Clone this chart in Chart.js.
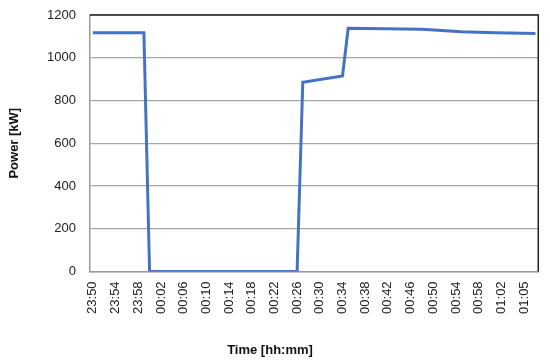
<!DOCTYPE html>
<html>
<head>
<meta charset="utf-8">
<script src="https://cdn.jsdelivr.net/npm/chart.js@4.4.0/dist/chart.umd.min.js"></script>
<style>
    html, body {margin: 0; padding: 0; background: #fff;}
    #wrap {width: 550px; height: 364px;}
</style>
</head>
<body>
<div id="wrap"><canvas id="power-chart" width="550" height="364"></canvas></div>
<script>
// one category per sample (about one a minute); only every 4th label is shown
const timeLabels = [
    '23:50', '23:51', '23:52', '23:53', '23:54', '23:55', '23:56', '23:57', '23:58', '23:59',
    '00:00', '00:01', '00:02', '00:03', '00:04', '00:05', '00:06', '00:07', '00:08', '00:09',
    '00:10', '00:11', '00:12', '00:13', '00:14', '00:15', '00:16', '00:17', '00:18', '00:19',
    '00:20', '00:21', '00:22', '00:23', '00:24', '00:25', '00:26', '00:27', '00:28', '00:29',
    '00:30', '00:31', '00:32', '00:33', '00:34', '00:35', '00:36', '00:37', '00:38', '00:39',
    '00:40', '00:41', '00:42', '00:43', '00:44', '00:45', '00:46', '00:47', '00:48', '00:49',
    '00:50', '00:51', '00:52', '00:53', '00:54', '00:55', '00:56', '00:57', '00:58', '00:59',
    '01:00', '01:01', '01:02', '01:03', '01:03', '01:04', '01:05', '01:06', '01:07'
];

// power readings [kW]; null = no marker, the line just runs through
const powerKw = [
    1117, null, null, null, null, null, null, null, null, 1117,
    0, null, null, null, null, null, null, null, null, null,
    null, null, null, null, null, null, null, null, null, null,
    null, null, null, null, null, null, 0, 885, null, null,
    null, null, null, null, 915, 1138, null, null, null, null,
    null, null, null, null, null, null, null, null, 1133, null,
    null, null, null, null, null, 1122, null, null, null, null,
    null, 1117, null, null, null, null, null, null, 1114
];

const yTicks = [0, 200, 400, 600, 800, 1000, 1200];
const labelEvery = 4;

const frameLines = {
    id: 'frameLines',
    afterDraw(chart) {
        const {ctx, chartArea} = chart;
        ctx.save();
        ctx.strokeStyle = '#222';
        ctx.lineWidth = 1.5;
        ctx.beginPath();
        ctx.moveTo(chartArea.left, chartArea.top);
        ctx.lineTo(chartArea.right, chartArea.top);
        ctx.lineTo(chartArea.right, chartArea.bottom);
        ctx.stroke();
        ctx.restore();
    }
};

const tickFont = {family: 'Liberation Sans', size: 13};
const titleFont = {family: 'Liberation Sans', size: 13, weight: 'bold'};

new Chart(document.getElementById('power-chart'), {
    type: 'line',
    data: {
        labels: timeLabels,
        datasets: [{
            label: 'Power',
            data: powerKw,
            borderColor: '#4472C4',
            borderWidth: 3,
            pointRadius: 0,
            tension: 0,
            spanGaps: true
        }]
    },
    options: {
        responsive: false,
        animation: false,
        layout: {padding: {left: 0, right: 10, top: 15, bottom: 0}},
        plugins: {
            legend: {display: false},
            tooltip: {enabled: false},
            // x title centred on the whole picture, like the original
            title: {
                display: true,
                position: 'bottom',
                text: 'Time [hh:mm]',
                color: '#111',
                font: titleFont,
                padding: {top: 0, bottom: 6}
            }
        },
        scales: {
            x: {
                type: 'category',
                offset: true,
                grid: {display: false, drawTicks: false},
                border: {color: '#9a9a9a', width: 1.5},
                ticks: {
                    autoSkip: false,
                    minRotation: 90,
                    maxRotation: 90,
                    padding: 10,
                    color: '#222',
                    font: tickFont,
                    callback: function (val, idx) {
                        return idx % labelEvery === 0 ? timeLabels[idx] : null;
                    }
                },
                afterFit: (scale) => {
                    scale.height = 71;
                    scale.paddingTop = 0;
                    scale.paddingBottom = 0;
                }
            },
            y: {
                min: 0,
                max: 1200,
                afterBuildTicks: (scale) => { scale.ticks = yTicks.map(v => ({value: v})); },
                grid: {color: '#a6a6a6', lineWidth: 1.2, drawTicks: false},
                border: {color: '#9a9a9a', width: 1.5},
                ticks: {
                    padding: 14,
                    color: '#222',
                    font: tickFont,
                    callback: (v) => String(v)
                },
                title: {display: true, text: 'Power [kW]', color: '#111', font: titleFont, padding: {top: 7, bottom: 0}},
                afterFit: (scale) => {
                    scale.width = 90;
                    scale.paddingTop = 0;
                    scale.paddingBottom = 0;
                }
            }
        }
    },
    plugins: [frameLines]
});
</script>
</body>
</html>
